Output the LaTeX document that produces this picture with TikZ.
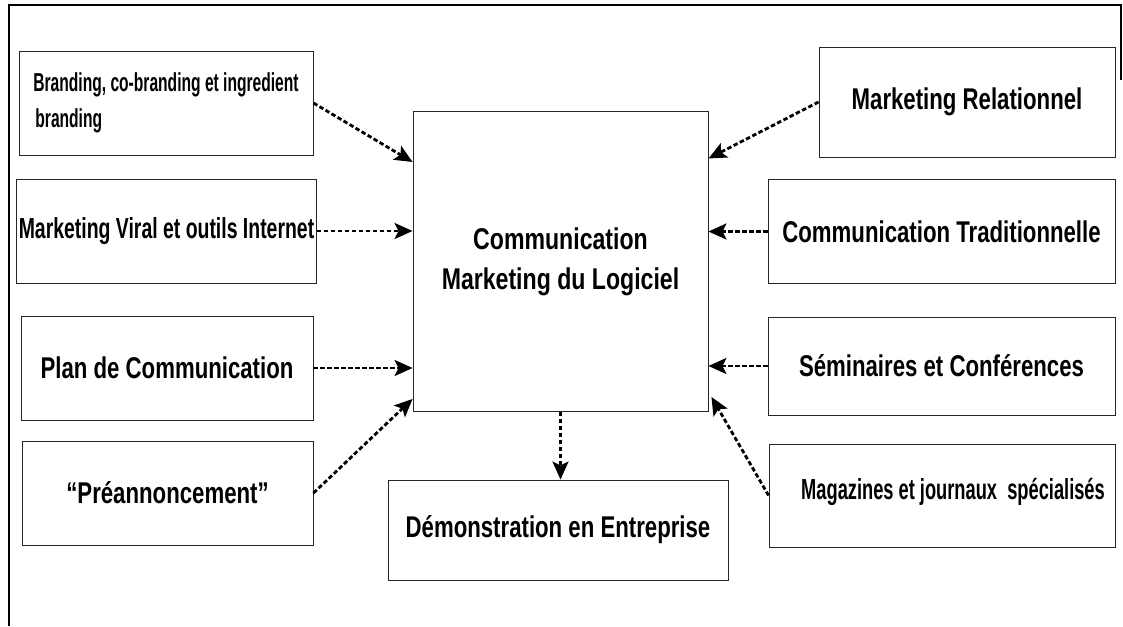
\documentclass[tikz,border=0pt]{standalone}
\usepackage{fontspec}
\setmainfont{Liberation Sans}
\newfontfamily\bigface{Liberation Sans}[FakeStretch=0.77]
\newfontfamily\wideface{Liberation Sans}[FakeStretch=0.74]
\newfontfamily\midface{Liberation Sans}[FakeStretch=0.67]
\newfontfamily\narface{Liberation Sans}[FakeStretch=0.63]
\newfontfamily\tightface{Liberation Sans}[FakeStretch=0.6]
\usetikzlibrary{arrows.meta}
\tikzset{
box/.style={
	  draw=black!85, line width=0.9pt, inner sep=2pt, align=center,
	    font=\wideface\bfseries\fontsize{30}{40}\selectfont},
link/.style={
	  line width=2.8pt, dash pattern=on 4.5pt off 2.5pt,
	    -{Stealth[length=18pt,width=16pt,inset=4pt]}}
}

\begin{document}
\begin{tikzpicture}[x=1pt, y=-1pt]
	\useasboundingbox (0,0) rectangle (1123,626);
	% frame
	\draw[line width=1.8pt] (1121,80) -- (1121,5) -- (9,5) -- (9,626);
	% sources on the left
	\node[box, minimum width=294pt, minimum height=104pt, align=left,
		font=\tightface\bfseries\fontsize{26}{36}\selectfont] (brand) at (166,103)
		{Branding, co-branding et ingredient\\ \hspace*{2pt}branding};
	\node[box, minimum width=293pt, minimum height=104pt,
		font=\midface\bfseries\fontsize{29}{36}\selectfont] (viral) at (166.5,231)
		{Marketing Viral et outils Internet};
	\node[box, minimum width=292pt, minimum height=104pt] (plan) at (167,368)
		{Plan de Communication};
	\node[box, minimum width=291pt, minimum height=104pt] (pre) at (167.5,493)
		{“Préannoncement”};
	% centre and bottom
	\node[box, minimum width=295pt, minimum height=300pt,
		font=\bigface\bfseries\fontsize{30}{40}\selectfont]
		(comm) at (560.5,261.5) {Communication\\Marketing du Logiciel};
	\node[box, minimum width=340pt, minimum height=100pt] (demo) at (558,530)
		{Démonstration en Entreprise};
	% sources on the right
	\node[box, minimum width=296pt, minimum height=110pt] (relat) at (967,102)
		{Marketing Relationnel};
	\node[box, minimum width=347pt, minimum height=104pt] (trad) at (941.5,231.5)
		{Communication Traditionnelle};
	\node[box, minimum width=347pt, minimum height=98pt] (semi) at (941.5,366)
		{Séminaires et Conférences};
	\node[box, minimum width=346pt, minimum height=103pt,
		font=\narface\bfseries\fontsize{29}{36}\selectfont] (press) at (942,495.5)
		{\hspace*{22pt}Magazines et journaux~ spécialisés\rule[-14pt]{0pt}{1pt}};
	% connectors
	\draw[link] (brand.east) -- ([yshift=99.5pt]comm.west);
	\draw[link] (viral.east) -- (comm.west |- viral.east);
	\draw[link] (plan.east) -- (comm.west |- plan.east);
	\draw[link] (pre.east) -- ([yshift=13pt]comm.south west);
	\draw[link] (relat.west) -- ([yshift=103pt]comm.east);
	\draw[link] (trad.west) -- (comm.east |- trad.west);
	\draw[link] (semi.west) -- (comm.east |- semi.west);
	\draw[link] (press.west) -- ([xshift=3pt,yshift=15pt]comm.south east);
	\draw[link] (comm.south) -- (comm.south |- demo.north);
\end{tikzpicture}
\end{document}
